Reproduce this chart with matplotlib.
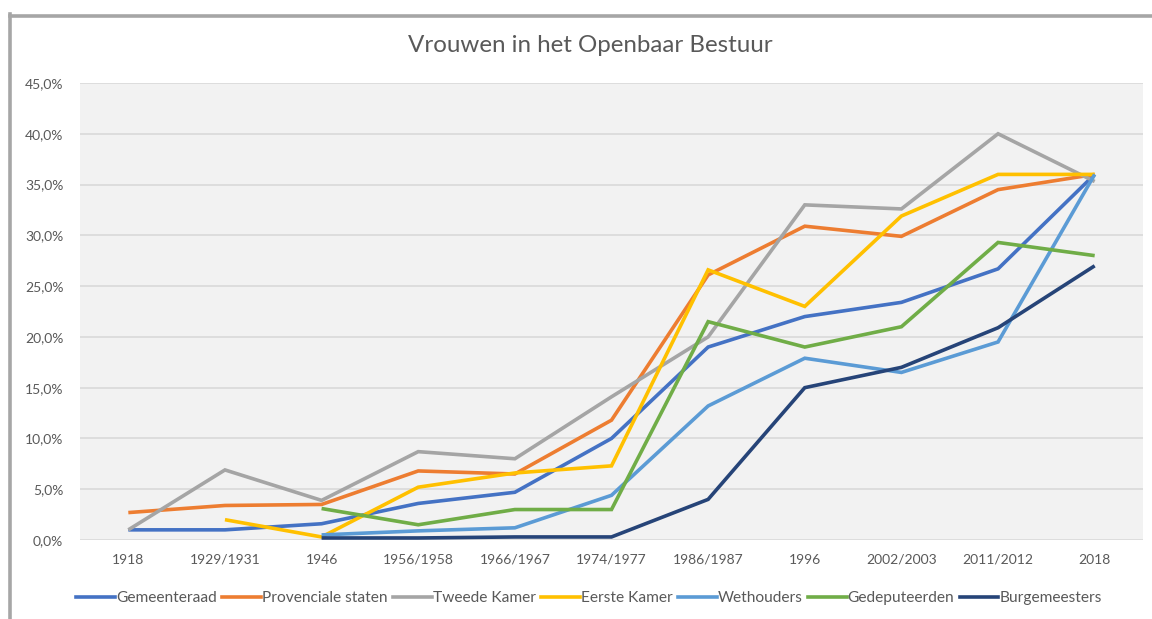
import numpy as np
import matplotlib
matplotlib.use("Agg")
import matplotlib.pyplot as plt
from matplotlib.lines import Line2D
from matplotlib.ticker import FuncFormatter, MultipleLocator

categories = ["1918", "1929/1931", "1946", "1956/1958", "1966/1967", "1974/1977",
              "1986/1987", "1996", "2002/2003", "2011/2012", "2018"]
nan = np.nan
gemeenteraad = [1.0, 1.0, 1.6, 3.6, 4.7, 10.0, 19.0, 22.0, 23.4, 26.7, 36.0]
provinciale_staten = [2.7, 3.4, 3.5, 6.8, 6.5, 11.8, 26.1, 30.9, 29.9, 34.5, 36.0]
tweede_kamer = [1.0, 6.9, 3.9, 8.7, 8.0, 14.1, 20.0, 33.0, 32.6, 40.0, 35.3]
eerste_kamer = [nan, 2.0, 0.3, 5.2, 6.6, 7.3, 26.6, 23.0, 31.9, 36.0, 36.0]
wethouders = [nan, nan, 0.5, 0.9, 1.2, 4.4, 13.2, 17.9, 16.5, 19.5, 36.0]
gedeputeerden = [nan, nan, 3.1, 1.5, 3.0, 3.0, 21.5, 19.0, 21.0, 29.3, 28.0]
burgemeesters = [nan, nan, 0.2, 0.2, 0.3, 0.3, 4.0, 15.0, 17.0, 20.9, 27.0]

series = [
    ("Gemeenteraad", gemeenteraad, "#4472C4"),
    ("Provenciale staten", provinciale_staten, "#ED7D31"),
    ("Tweede Kamer", tweede_kamer, "#A5A5A5"),
    ("Eerste Kamer", eerste_kamer, "#FFC000"),
    ("Wethouders", wethouders, "#5B9BD5"),
    ("Gedeputeerden", gedeputeerden, "#70AD47"),
    ("Burgemeesters", burgemeesters, "#264478"),
]

plt.rcParams['font.family'] = ['Lato', 'DejaVu Sans']

fig = plt.figure(figsize=(11.52, 6.19), dpi=100)
fig.patch.set_facecolor("white")
W, H = 1152, 619
left, right, top, bottom = 80, 1143, 83, 540
ax = fig.add_axes([left / W, 1 - bottom / H, (right - left) / W, (bottom - top) / H])
ax.set_facecolor("#F2F2F2")

x = np.arange(len(categories))
for name, vals, col in series:
    ax.plot(x, np.array(vals, dtype=float), color=col, lw=2.6, label=name,
            solid_joinstyle="miter", solid_capstyle="butt")

ax.set_xlim(-0.5, len(categories) - 0.5)
ax.set_ylim(0, 45)
ax.yaxis.set_major_locator(MultipleLocator(5))
ax.yaxis.set_major_formatter(FuncFormatter(lambda v, p: f"{v:.1f}%".replace(".", ",")))
ax.set_xticks(x)
ax.set_xticklabels(categories)
ax.grid(axis="y", color="#D9D9D9", lw=1.2)
ax.set_axisbelow(True)
for s in ax.spines.values():
    s.set_visible(False)
ax.tick_params(axis="both", length=0, labelsize=10, colors="#595959")
ax.tick_params(axis="x", pad=10)
ax.tick_params(axis="y", pad=12)

fig.text(590 / W, 1 - 45 / H, "Vrouwen in het Openbaar Bestuur", ha="center", va="center",
         fontsize=17.4, color="#595959")

handles = [Line2D([0], [0], color=c, lw=2.6) for _, _, c in series]
fig.legend(handles, [n for n, _, _ in series], loc="center", bbox_to_anchor=(589 / W, 1 - 598 / H),
           ncol=7, frameon=False, fontsize=11.2, handlelength=2.5, handletextpad=0.05,
           columnspacing=0.35, labelcolor="#595959")

# outer frame (top and left)
fig.add_artist(Line2D([10 / W, 1.0], [1 - 15.5 / H, 1 - 15.5 / H], color="#A6A6A6", lw=2.6,
                      transform=fig.transFigure))
fig.add_artist(Line2D([10 / W, 10 / W], [1 - 14 / H, 0], color="#A6A6A6", lw=2.6,
                      transform=fig.transFigure))

fig.savefig("out.png", dpi=100)
